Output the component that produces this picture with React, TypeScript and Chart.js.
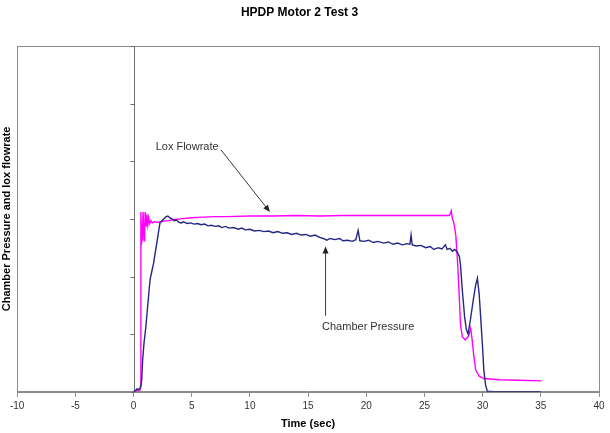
import React, { useEffect, useRef } from "react";
import { Chart, registerables } from "chart.js";

Chart.register(...registerables);

const chartTitle = "HPDP Motor 2 Test 3";
const xTitle = "Time (sec)";
const yTitle = "Chamber Pressure and lox flowrate";

const chamberTime = [
  0, 0.15, 0.3, 0.45, 0.6, 0.7, 0.78, 0.9, 1.06, 1.15, 1.26, 1.35, 1.44, 1.58, 1.72, 1.85, 2.0, 2.15,
  2.27, 2.4, 2.5, 2.65, 2.8, 2.95, 3.1, 3.3, 3.5, 3.7, 3.9, 4.1, 4.3, 4.6, 4.9, 5.2, 5.5, 5.8, 6.1,
  6.4, 6.7, 7.0, 7.3, 7.6, 7.9, 8.2, 8.6, 9.0, 9.3, 9.6, 10.0, 10.4, 10.8, 11.2, 11.6, 12.0, 12.4,
  12.8, 13.2, 13.6, 14.0, 14.4, 14.8, 15.2, 15.6, 16.0, 16.3, 16.6, 16.9, 17.3, 17.7, 18.0, 18.4,
  18.8, 19.1, 19.3, 19.45, 19.8, 20.2, 20.6, 21.0, 21.5, 21.9, 22.3, 22.7, 23.1, 23.5, 23.75, 23.85,
  23.95, 24.3, 24.7, 25.1, 25.5, 25.8, 26.2, 26.5, 26.8, 26.95, 27.2, 27.4, 27.6, 27.8, 28.0, 28.1,
  28.25, 28.45, 28.6, 28.75, 28.95, 29.2, 29.4, 29.55, 29.7, 29.83, 30.0, 30.1, 30.25, 30.4, 31.0,
  33.0, 35.0,
];
const chamberPressure = [
  0.0, 0.02, 0.05, 0.04, 0.07, 0.2, 0.55, 0.85, 1.13, 1.35, 1.59, 1.8, 1.97, 2.1, 2.23, 2.4, 2.58, 2.78,
  2.93, 2.96, 2.98, 3.01, 3.04, 3.05, 3.02, 3.0, 2.97, 2.98, 2.94, 2.93, 2.95, 2.92, 2.93, 2.91, 2.92,
  2.9, 2.91, 2.88, 2.89, 2.87, 2.88, 2.85, 2.87, 2.84, 2.85, 2.82, 2.84, 2.81, 2.82, 2.79, 2.8, 2.78,
  2.79, 2.76, 2.78, 2.75, 2.76, 2.73, 2.75, 2.72, 2.73, 2.7, 2.72, 2.68, 2.66, 2.63, 2.66, 2.64, 2.66,
  2.62, 2.63, 2.61, 2.64, 2.8, 2.62, 2.61, 2.63, 2.59, 2.61, 2.58, 2.6, 2.56, 2.58, 2.55, 2.57, 2.56,
  2.72, 2.55, 2.53, 2.54, 2.5, 2.52, 2.47, 2.5, 2.48, 2.55, 2.47, 2.49, 2.44, 2.47, 2.43, 2.35, 2.2,
  1.77, 1.3, 1.08, 1.0, 1.25, 1.6, 1.85, 1.97, 1.7, 1.3, 0.75, 0.38, 0.12, 0.01, 0.0, 0.0, 0.0,
];

const loxTime = [
  0, 0.3, 0.55, 0.6, 0.63, 0.7, 0.75, 0.82, 0.9, 0.95, 1.0, 1.08, 1.15, 1.23, 1.3, 1.38, 1.48, 1.6,
  1.8, 2.1, 2.5, 3.0, 3.5, 4.0, 5.0, 6.0, 7.0, 8.0, 10.0, 12.0, 14.0, 16.0, 18.0, 20.0, 22.0, 24.0,
  26.0, 27.15, 27.3, 27.4, 27.5, 27.6, 27.7, 27.87, 28.0, 28.1, 28.25, 28.5, 28.8, 28.97, 29.1, 29.25,
  29.4, 29.7, 30.1, 31.5, 33.0, 35.06,
];
const loxFlowrate = [
  0.0, 0.02, 0.03, 0.1, 3.12, 2.6, 2.65, 3.12, 2.62, 2.7, 3.12, 2.88, 3.08, 2.9, 3.02, 2.92, 2.97, 2.93,
  2.95, 2.94, 2.96, 2.97, 2.99, 3.0, 3.02, 3.03, 3.04, 3.04, 3.05, 3.05, 3.06, 3.05, 3.06, 3.06, 3.06,
  3.06, 3.06, 3.06, 3.14, 3.0, 2.95, 2.85, 2.7, 2.17, 1.6, 1.16, 0.96, 0.9, 0.97, 1.1, 0.9, 0.6, 0.38,
  0.27, 0.23, 0.21, 0.2, 0.19,
];

const xMin = -10;
const xMax = 40;
const xStep = 5;
const yMin = 0;
const yMax = 6;
const yStep = 1;

// annotation anchors in data units
const loxLabel = { text: "Lox Flowrate", x: 1.9, y: 4.25 };
const loxArrow = { x1: 7.5, y1: 4.2, x2: 11.72, y2: 3.12 };
const chamberLabel = { text: "Chamber Pressure", x: 16.2, y: 1.13 };
const chamberArrow = { x1: 16.5, y1: 1.32, x2: 16.5, y2: 2.52 };

const FONT = "'Liberation Sans', Arial, sans-serif";

const framePlugin = {
  id: "frame",
  beforeDatasetsDraw(chart: any) {
    const { ctx, chartArea: a, scales } = chart;
    const xs = scales.x;
    const ys = scales.y;
    ctx.save();
    ctx.strokeStyle = "#8c8c8c";
    ctx.lineWidth = 1;
    ctx.strokeRect(Math.round(a.left) + 0.5, Math.round(a.top) + 0.5, Math.round(a.right - a.left), Math.round(a.bottom - a.top));
    // y axis at x = 0
    const x0 = Math.round(xs.getPixelForValue(0)) + 0.5;
    ctx.strokeStyle = "#6e6e6e";
    ctx.beginPath();
    ctx.moveTo(x0, a.top);
    ctx.lineTo(x0, a.bottom);
    for (let v = yMin; v <= yMax; v += yStep) {
      const py = Math.round(ys.getPixelForValue(v)) + 0.5;
      ctx.moveTo(x0 - 4, py);
      ctx.lineTo(x0, py);
    }
    ctx.stroke();
    ctx.restore();
  },
  afterDatasetsDraw(chart: any) {
    const { ctx, scales } = chart;
    const xs = scales.x;
    const ys = scales.y;
    const px = (v: number) => xs.getPixelForValue(v);
    const py = (v: number) => ys.getPixelForValue(v);
    ctx.save();
    ctx.fillStyle = "#333333";
    ctx.font = `11px ${FONT}`;
    ctx.textBaseline = "middle";
    ctx.textAlign = "left";
    ctx.fillText(loxLabel.text, px(loxLabel.x), py(loxLabel.y));
    ctx.fillText(chamberLabel.text, px(chamberLabel.x), py(chamberLabel.y));
    const arrow = (ar: { x1: number; y1: number; x2: number; y2: number }) => {
      const ax = px(ar.x1), ay = py(ar.y1), bx = px(ar.x2), by = py(ar.y2);
      const ang = Math.atan2(by - ay, bx - ax);
      const hl = 7, hw = 3;
      ctx.strokeStyle = "#3a3a3a";
      ctx.lineWidth = 1;
      ctx.beginPath();
      ctx.moveTo(ax, ay);
      ctx.lineTo(bx - Math.cos(ang) * hl * 0.8, by - Math.sin(ang) * hl * 0.8);
      ctx.stroke();
      ctx.fillStyle = "#222222";
      ctx.beginPath();
      ctx.moveTo(bx, by);
      ctx.lineTo(bx - Math.cos(ang) * hl + Math.sin(ang) * hw, by - Math.sin(ang) * hl - Math.cos(ang) * hw);
      ctx.lineTo(bx - Math.cos(ang) * hl - Math.sin(ang) * hw, by - Math.sin(ang) * hl + Math.cos(ang) * hw);
      ctx.closePath();
      ctx.fill();
    };
    arrow(loxArrow);
    arrow(chamberArrow);
    ctx.restore();
  },
};

export default function App() {
  const ref = useRef<HTMLCanvasElement | null>(null);
  useEffect(() => {
    if (!ref.current) return;
    const chamberData = chamberTime.map((t, i) => ({ x: t, y: chamberPressure[i] }));
    const loxData = loxTime.map((t, i) => ({ x: t, y: loxFlowrate[i] }));
    const chart = new Chart(ref.current, {
      type: "line",
      data: {
        datasets: [
          {
            label: "Chamber Pressure",
            data: chamberData,
            borderColor: "#262684",
            borderWidth: 1.4,
            pointRadius: 0,
            tension: 0,
            fill: false,
          },
          {
            label: "Lox Flowrate",
            data: loxData,
            borderColor: "#ff00ff",
            borderWidth: 1.4,
            pointRadius: 0,
            tension: 0,
            fill: false,
          },
        ],
      },
      options: {
        animation: false,
        responsive: true,
        maintainAspectRatio: false,
        layout: { padding: { left: 0, right: 11, top: 0, bottom: 0 } },
        plugins: {
          legend: { display: false },
          tooltip: { enabled: false },
          title: {
            display: true,
            text: chartTitle,
            color: "#000000",
            font: { family: FONT, size: 12, weight: "bold" },
            padding: { top: 5, bottom: 26.6 },
          },
        },
        scales: {
          x: {
            type: "linear",
            position: "bottom",
            min: xMin,
            max: xMax,
            ticks: {
              stepSize: xStep,
              color: "#333333",
              font: { family: FONT, size: 10 },
              padding: 3,
              maxRotation: 0,
            },
            grid: { display: true, drawOnChartArea: false, drawTicks: true, tickLength: 5, color: "#8c8c8c" },
            border: { display: true, color: "#8c8c8c" },
            title: {
              display: true,
              text: xTitle,
              color: "#000000",
              font: { family: FONT, size: 11, weight: "bold" },
              padding: { top: 3, bottom: 2 },
            },
          },
          y: {
            type: "linear",
            position: "left",
            min: yMin,
            max: yMax,
            ticks: { display: false, stepSize: yStep },
            grid: { display: false, drawTicks: false },
            border: { display: false },
            title: {
              display: true,
              text: yTitle,
              color: "#000000",
              font: { family: FONT, size: 11, weight: "bold" },
              padding: { top: 0, bottom: 4 },
            },
          },
        },
      },
      plugins: [framePlugin],
    });
    return () => chart.destroy();
  }, []);
  return (
    <div style={{ position: "fixed", left: 0, top: 0, width: 610, height: 433, background: "#ffffff" }}>
      <canvas ref={ref} />
    </div>
  );
}
